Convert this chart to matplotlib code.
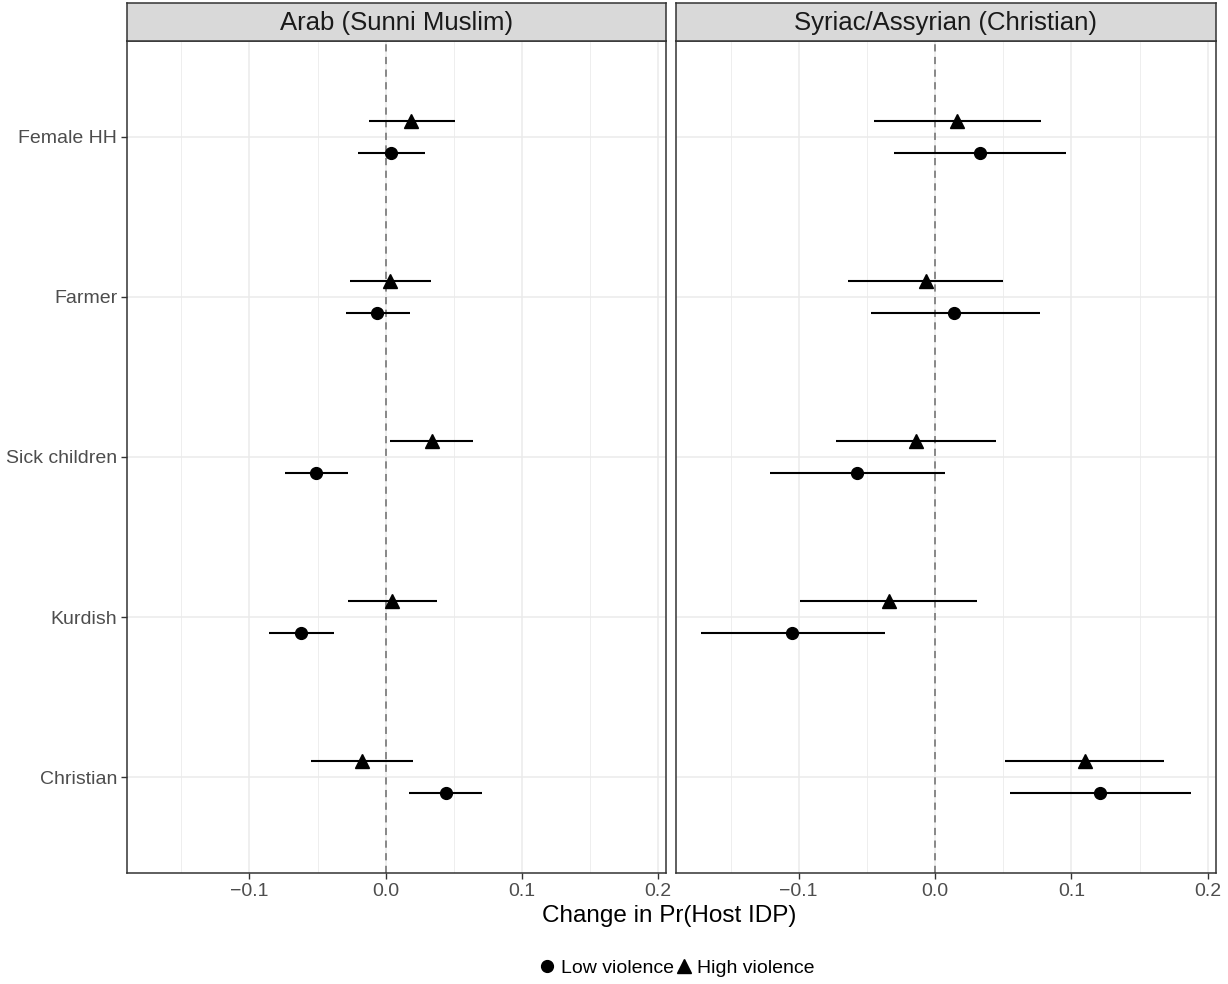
import numpy as np
import matplotlib
matplotlib.use("Agg")
import matplotlib.pyplot as plt
from matplotlib.lines import Line2D

plt.rcParams['font.family'] = ['Liberation Sans', 'DejaVu Sans']

# data
categories = ["Female HH", "Farmer", "Sick children", "Kurdish", "Christian"]
groups = ["Arab (Sunni Muslim)", "Syriac/Assyrian (Christian)"]

arab_low_est = [0.004, -0.006, -0.051, -0.062, 0.044]
arab_low_lo = [-0.020, -0.029, -0.074, -0.086, 0.017]
arab_low_hi = [0.029, 0.018, -0.028, -0.038, 0.071]
arab_high_est = [0.019, 0.003, 0.034, 0.005, -0.017]
arab_high_lo = [-0.012, -0.026, 0.003, -0.028, -0.055]
arab_high_hi = [0.051, 0.033, 0.064, 0.038, 0.020]

syr_low_est = [0.033, 0.014, -0.057, -0.105, 0.121]
syr_low_lo = [-0.030, -0.047, -0.121, -0.172, 0.055]
syr_low_hi = [0.096, 0.077, 0.007, -0.037, 0.188]
syr_high_est = [0.016, -0.007, -0.014, -0.034, 0.110]
syr_high_lo = [-0.045, -0.064, -0.073, -0.099, 0.051]
syr_high_hi = [0.078, 0.050, 0.045, 0.031, 0.168]

panels = [
    (groups[0], (arab_low_est, arab_low_lo, arab_low_hi), (arab_high_est, arab_high_lo, arab_high_hi)),
    (groups[1], (syr_low_est, syr_low_lo, syr_low_hi), (syr_high_est, syr_high_lo, syr_high_hi)),
]

# shared x range, ggplot-style 5% expansion
all_lo = min(min(p[1][1] + p[2][1]) for p in panels)
all_hi = max(max(p[1][2] + p[2][2]) for p in panels)
span = all_hi - all_lo
xlim = (all_lo - 0.05 * span, all_hi + 0.05 * span)

W, H = 1228, 984
fig = plt.figure(figsize=(W / 100, H / 100), dpi=100)

dark = '#333333'
grid = '#EBEBEB'
ypos = np.arange(len(categories))[::-1] + 1.0
dodge = 0.1

panel_px = [(127, 666), (676, 1216)]
top_px, bot_px, strip_top = 41, 873, 3

for k, (title, low, high) in enumerate(panels):
    x0, x1 = panel_px[k]
    ax = fig.add_axes([x0 / W, (H - bot_px) / H, (x1 - x0) / W, (bot_px - top_px) / H])
    sax = fig.add_axes([x0 / W, (H - top_px) / H, (x1 - x0) / W, (top_px - strip_top) / H])

    ax.set_xlim(*xlim)
    ax.set_ylim(0.4, len(categories) + 0.6)

    for v in [-0.15, -0.05, 0.05, 0.15]:
        ax.axvline(v, color=grid, lw=0.6, zorder=0)
    for v in [-0.1, 0.0, 0.1, 0.2]:
        ax.axvline(v, color=grid, lw=1.1, zorder=0)
    for y in ypos:
        ax.axhline(y, color=grid, lw=1.1, zorder=0)
    ax.axvline(0, color='#808080', lw=1.3, ls=(0, (4, 3)), zorder=1)

    est, lo, hi = high
    ax.hlines(ypos + dodge, lo, hi, color='black', lw=1.5, zorder=2)
    ax.plot(est, ypos + dodge, ls='none', marker='^', ms=10, color='black', zorder=3)
    est, lo, hi = low
    ax.hlines(ypos - dodge, lo, hi, color='black', lw=1.5, zorder=2)
    ax.plot(est, ypos - dodge, ls='none', marker='o', ms=8.5, color='black', zorder=3)

    ax.set_xticks([-0.1, 0.0, 0.1, 0.2])
    ax.set_xticklabels(['\u22120.1', '0.0', '0.1', '0.2'])
    ax.set_yticks(ypos)
    ax.tick_params(colors=dark, labelcolor='#4D4D4D', labelsize=14, length=4, width=1, pad=3)
    if k == 0:
        ax.set_yticklabels(categories)
    else:
        ax.set_yticklabels([])
        ax.tick_params(axis='y', length=0)
    for s in ax.spines.values():
        s.set_color(dark)
        s.set_linewidth(1.1)

    sax.set_facecolor('#D9D9D9')
    sax.set_xticks([])
    sax.set_yticks([])
    for s in sax.spines.values():
        s.set_color(dark)
        s.set_linewidth(1.1)
    sax.text(0.5, 0.47, title, ha='center', va='center', fontsize=18.5, color='#1A1A1A',
             transform=sax.transAxes)

fig.text(669 / W, (H - 916) / H, 'Change in Pr(Host IDP)', ha='center', va='center',
         fontsize=17.5, color='black')

handles = [
    Line2D([], [], ls='none', marker='o', ms=8.5, color='black', label='Low violence'),
    Line2D([], [], ls='none', marker='^', ms=10, color='black', label='High violence'),
]
fig.legend(handles=handles, loc='center', bbox_to_anchor=(677 / W, (H - 968) / H), ncol=2,
           frameon=False, fontsize=14, handlelength=0.8, handletextpad=0.3, columnspacing=0.1)

fig.savefig('out.png', dpi=100, facecolor='white')
